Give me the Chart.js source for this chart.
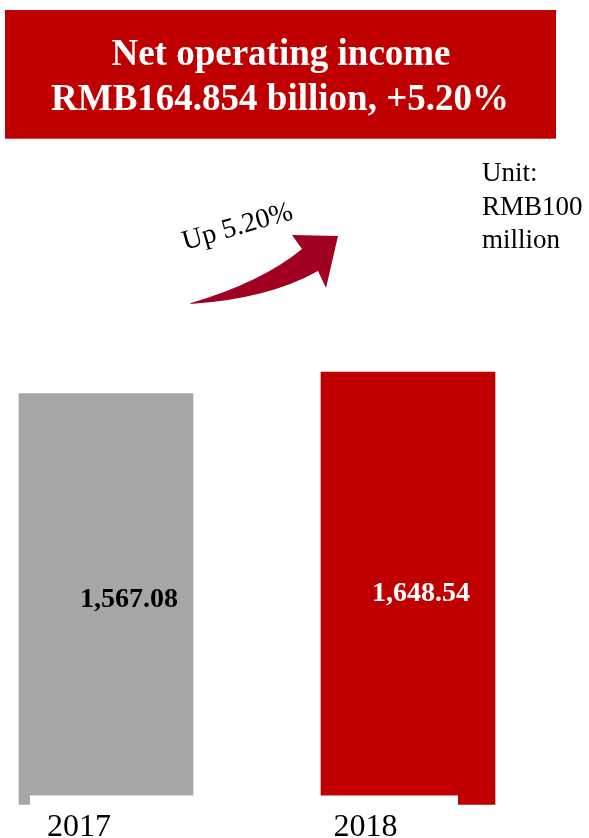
<!DOCTYPE html>
<html>
<head>
<meta charset="utf-8">
<script src="https://cdn.jsdelivr.net/npm/chart.js@4.4.0/dist/chart.umd.min.js"></script>
<style>
  html, body { margin: 0; padding: 0; background: #fff; }
  #wrap { position: relative; width: 589px; height: 838px; overflow: hidden; }
</style>
</head>
<body>
<div id="wrap"><canvas id="myChart" width="589" height="838"></canvas></div>
<script>
// net operating income, RMB100 million
const years = ['2017', '2018']
const income = [1567.08, 1648.54]

const titleLines = ['Net operating income', 'RMB164.854 billion, +5.20%']
const unitLines = ['Unit:', 'RMB100', 'million']
const growthText = 'Up 5.20%'

const SERIF = "'Liberation Serif', 'Times New Roman', serif"

function fmt(v) {
  return v.toLocaleString('en-US', { minimumFractionDigits: 2, maximumFractionDigits: 2 })
}

// everything that is not a bar: header box, unit note, arrow, labels
const decor = {
  id: 'decor',
  afterDatasetsDraw(chart) {
    const c = chart.ctx
    const area = chart.chartArea
    const bars = chart.getDatasetMeta(0).data

    // white strip under the bars where the year labels sit
    c.save()
    c.fillStyle = '#ffffff'
    c.fillRect(30, area.bottom - 9, 428, 12)

    // values inside the bars
    const valueShift = [[23, 7.5], [13, 13]]
    const valueColor = ['#000000', '#ffffff']
    c.font = 'bold 28px ' + SERIF
    c.textAlign = 'center'
    c.textBaseline = 'alphabetic'
    bars.forEach((bar, i) => {
      c.fillStyle = valueColor[i]
      c.fillText(fmt(income[i]), bar.x + valueShift[i][0], (bar.y + bar.base) / 2 + valueShift[i][1])
    })

    // year labels
    const yearShift = [-27, -42.5]
    c.font = '32px ' + SERIF
    c.fillStyle = '#000000'
    bars.forEach((bar, i) => {
      c.fillText(years[i], bar.x + yearShift[i], area.bottom + 31.5)
    })
    c.restore()
  },
  afterDraw(chart) {
    const c = chart.ctx
    c.save()

    // header
    c.fillStyle = '#C00000'
    c.fillRect(5, 10, 551, 128.7)
    c.fillStyle = '#ffffff'
    c.font = 'bold 37px ' + SERIF
    c.textAlign = 'center'
    c.textBaseline = 'alphabetic'
    c.fillText(titleLines[0], 281, 65)
    c.fillText(titleLines[1], 280, 109.5)

    // unit note
    c.fillStyle = '#000000'
    c.font = '27px ' + SERIF
    c.textAlign = 'left'
    const unitY = [181, 215, 248]
    unitLines.forEach((t, i) => c.fillText(t, 482, unitY[i]))

    // curved arrow
    c.fillStyle = '#A20022'
    c.beginPath()
    c.moveTo(191, 303)
    c.quadraticCurveTo(262, 282, 302, 249)
    c.lineTo(292, 235)
    c.lineTo(338, 236)
    c.lineTo(326, 288)
    c.lineTo(318, 271)
    c.quadraticCurveTo(268, 299, 190, 304)
    c.closePath()
    c.fill()

    // growth note, tilted
    c.translate(185, 250)
    c.rotate(-16 * Math.PI / 180)
    c.fillStyle = '#000000'
    c.font = '28px ' + SERIF
    c.fillText(growthText, 0, 0)
    c.restore()
  }
}

const ctx = document.getElementById('myChart').getContext('2d')
const chart = new Chart(ctx, {
  type: 'bar',
  data: {
    labels: years,
    datasets: [{
      data: income,
      backgroundColor: ['#A6A6A6', '#C00000'],
      borderWidth: 0,
      barThickness: 174,
      clip: false
    }]
  },
  options: {
    responsive: false,
    animation: false,
    layout: { padding: { left: 106, right: 181, top: 280, bottom: 33.5 } },
    plugins: {
      legend: { display: false },
      tooltip: { enabled: false }
    },
    scales: {
      x: { display: false, offset: false },
      y: { display: false, min: 0, max: 2000 }
    }
  },
  plugins: [decor]
})
</script>
</body>
</html>
